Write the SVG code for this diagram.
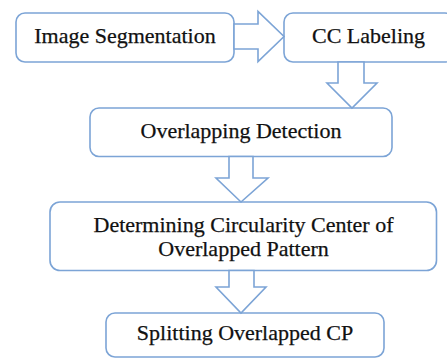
<svg xmlns="http://www.w3.org/2000/svg" width="447" height="358" viewBox="0 0 447 358">
<style>
.box{fill:#ffffff;stroke:#7ca4d6;stroke-width:1.6}
.arr{fill:#ffffff;stroke:#7ca4d6;stroke-width:1.6;stroke-linejoin:miter}
.t{font-family:"Liberation Serif","DejaVu Serif",serif;font-size:22px;fill:#111111;stroke:#111111;stroke-width:0.25;text-anchor:middle}
</style>
<rect width="447" height="358" fill="#ffffff"/>
<g id="node-image-segmentation">
<rect class="box" x="16" y="13" width="218" height="49" rx="9"/>
<text class="t" x="125" y="43">Image Segmentation</text>
</g>
<g id="node-cc-labeling">
<rect class="box" x="284" y="13" width="170" height="49" rx="9"/>
<text class="t" x="368.5" y="43">CC Labeling</text>
</g>
<g id="node-overlapping-detection">
<rect class="box" x="90" y="108" width="302" height="48.5" rx="9"/>
<text class="t" x="241" y="138">Overlapping Detection</text>
</g>
<g id="node-determining">
<rect class="box" x="50" y="202" width="386.5" height="68.5" rx="10"/>
<text class="t" x="243.5" y="232">Determining Circularity Center of</text>
<text class="t" x="243.5" y="256">Overlapped Pattern</text>
</g>
<g id="node-splitting">
<rect class="box" x="106" y="313" width="278" height="44" rx="9"/>
<text class="t" x="245" y="340">Splitting Overlapped CP</text>
</g>
<g id="connectors">
<polygon class="arr" points="234,24 258,24 258,11.5 284,36.5 258,61.5 258,49 234,49"/>
<polygon class="arr" points="338,62 364,62 364,83 377,83 352,108 327,83 338,83"/>
<polygon class="arr" points="229,156.5 253,156.5 253,178 268,178 241,202 216,178 229,178"/>
<polygon class="arr" points="229,270.5 254,270.5 254,287 266,287 241,313 216,287 229,287"/>
</g>
</svg>
